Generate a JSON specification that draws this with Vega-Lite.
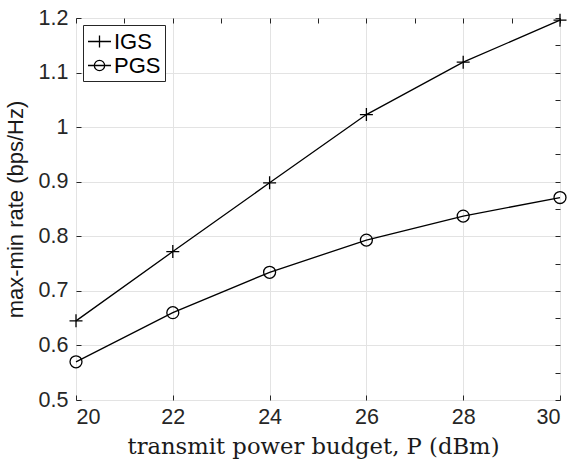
{
  "$schema": "https://vega.github.io/schema/vega-lite/v6.json",
  "width": 484,
  "height": 382,
  "autosize": "none",
  "padding": {"left": 76, "top": 18, "right": 12, "bottom": 60},
  "background": "white",
  "config": {
    "view": {"stroke": "#262626", "strokeWidth": 1},
    "axis": {
      "domain": false,
      "grid": true,
      "gridColor": "#e3e3e3",
      "gridWidth": 1,
      "tickColor": "#262626",
      "tickSize": -5,
      "labelFont": "Liberation Sans",
      "labelFontSize": 21.5,
      "labelColor": "#262626",
      "titleFontWeight": "normal",
      "titleColor": "#1a1a1a"
    }
  },
  "data": {
    "values": [
      {"P": 20, "rate": 0.645, "series": "IGS"},
      {"P": 22, "rate": 0.772, "series": "IGS"},
      {"P": 24, "rate": 0.898, "series": "IGS"},
      {"P": 26, "rate": 1.023, "series": "IGS"},
      {"P": 28, "rate": 1.119, "series": "IGS"},
      {"P": 30, "rate": 1.196, "series": "IGS"},
      {"P": 20, "rate": 0.570, "series": "PGS"},
      {"P": 22, "rate": 0.660, "series": "PGS"},
      {"P": 24, "rate": 0.734, "series": "PGS"},
      {"P": 26, "rate": 0.793, "series": "PGS"},
      {"P": 28, "rate": 0.837, "series": "PGS"},
      {"P": 30, "rate": 0.871, "series": "PGS"}
    ]
  },
  "layer": [
    {
      "mark": {"type": "line", "color": "black", "strokeWidth": 1.3},
      "encoding": {
        "x": {
          "field": "P", "type": "quantitative",
          "scale": {"domain": [20, 30], "nice": false, "zero": false},
          "axis": {
            "orient": "bottom",
            "values": [20, 22, 24, 26, 28, 30],
            "labelPadding": 11,
            "title": "transmit power budget, P (dBm)",
            "titleFont": "DejaVu Serif",
            "titleFontSize": 22.7,
            "titlePadding": 8,
            "titleX": 237
          }
        },
        "y": {
          "field": "rate", "type": "quantitative",
          "scale": {"domain": [0.5, 1.2], "nice": false, "zero": false},
          "axis": {
            "orient": "left",
            "values": [0.5, 0.6, 0.7, 0.8, 0.9, 1, 1.1, 1.2],
            "format": "~g",
            "labelPadding": 13,
            "title": "max-min rate (bps/Hz)",
            "titleFont": "Liberation Sans",
            "titleFontSize": 22,
            "titlePadding": 11
          }
        },
        "detail": {"field": "series"}
      }
    },
    {
      "mark": {"type": "point", "filled": false, "color": "black", "strokeWidth": 1.3, "size": 169, "opacity": 1},
      "encoding": {
        "x": {"field": "P", "type": "quantitative", "axis": {"orient": "top", "labels": false, "title": null, "grid": false}},
        "y": {"field": "rate", "type": "quantitative", "axis": {"orient": "right", "labels": false, "title": null, "grid": false}},
        "shape": {
          "field": "series", "type": "nominal",
          "scale": {"domain": ["IGS", "PGS"], "range": ["M-1,0H1M0,-1V1", "M-0.92,0A0.92,0.92,0,1,0,0.92,0A0.92,0.92,0,1,0,-0.92,0Z"]},
          "legend": null
        }
      }
    },
    {
      "mark": {"type": "point", "filled": false, "color": "black", "strokeWidth": 1.3, "size": 529, "opacity": 0},
      "encoding": {
        "x": {"field": "P", "type": "quantitative", "axis": null},
        "y": {"field": "rate", "type": "quantitative", "axis": null},
        "shape": {
          "field": "series", "type": "nominal",
          "scale": {"domain": ["IGS", "PGS"], "range": ["M-1,0H1M0,-0.52V0.52", "M-1,0H1M-0.45,0A0.45,0.45,0,1,0,0.45,0A0.45,0.45,0,1,0,-0.45,0Z"]},
          "legend": {
            "title": null,
            "orient": "top-left",
            "offset": 7,
            "padding": 4,
            "fillColor": "white",
            "strokeColor": "#262626",
            "labelFont": "Liberation Sans",
            "labelFontSize": 22,
            "labelColor": "black",
            "labelOffset": 2,
            "symbolSize": 529,
            "symbolStrokeWidth": 1.3,
            "symbolStrokeColor": "black",
            "symbolOpacity": 1,
            "rowPadding": 0
          }
        }
      }
    }
  ],
  "resolve": {
    "scale": {"shape": "independent"},
    "axis": {"x": "independent", "y": "independent"}
  }
}
